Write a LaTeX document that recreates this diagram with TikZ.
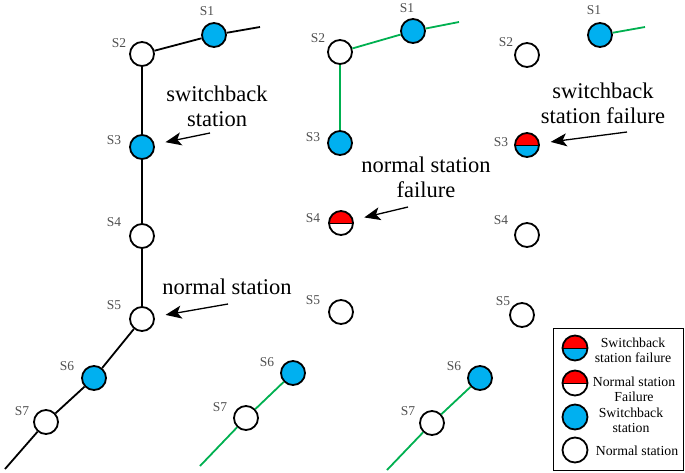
\documentclass[tikz,border=0pt]{standalone}
\usepackage{fontspec}
\setmainfont{Liberation Serif}
\usetikzlibrary{arrows.meta}
\definecolor{sbblue}{HTML}{00B0F0}
\definecolor{lgreen}{HTML}{00B050}
\definecolor{labgray}{HTML}{505050}
\begin{document}
\begin{tikzpicture}[x=1pt,y=-1pt,
  st/.style={circle, draw, line width=1.8pt, minimum size=24pt, inner sep=0pt, fill=white},
  sb/.style={st, fill=sbblue},
  nf/.style={st, fill=white, path picture={\fill[red] (path picture bounding box.west) rectangle (path picture bounding box.north east);
      \draw[line width=0.9pt] (path picture bounding box.west) -- (path picture bounding box.east);}},
  sf/.style={nf, fill=sbblue},
  lab/.style={font=\fontsize{13.5}{15}\selectfont, text=labgray, inner sep=0pt},
  ann/.style={font=\fontsize{22.5}{25}\selectfont, align=center, inner sep=0pt},
  leg/.style={font=\fontsize{13.8}{15}\selectfont, align=center, inner sep=0pt},
  blk/.style={line width=1.8pt, black},
  grn/.style={line width=1.8pt, lgreen},
  arr/.style={line width=1.3pt, -{Stealth[length=16pt, width=13pt, inset=4pt]}, shorten >=11pt}
]
\useasboundingbox (0,0) rectangle (685,472);

% ---------- panel 1 ----------
\node[sb] (a1) at (214,35) {};
\node[st] (a2) at (142,54) {};
\node[sb] (a3) at (142,147) {};
\node[st] (a4) at (142,236) {};
\node[st] (a5) at (142,319) {};
\node[sb] (a6) at (94,378) {};
\node[st] (a7) at (46,422) {};
\coordinate (a1e) at (260,27);
\coordinate (a7e) at (5,469);
\draw[blk] (a1) -- (a1e);
\draw[blk] (a2) -- (a1);
\draw[blk] (a2) -- (a3);
\draw[blk] (a3) -- (a4);
\draw[blk] (a4) -- (a5);
\draw[blk] (a5) -- (a6);
\draw[blk] (a6) -- (a7);
\draw[blk] (a7) -- (a7e);
\node[lab] (la1) at (207,11) {S1};
\node[lab] (la2) at (119,43) {S2};
\node[lab] (la3) at (114,140) {S3};
\node[lab] (la4) at (114,222) {S4};
\node[lab] (la5) at (114,305) {S5};
\node[lab] (la6) at (67,366) {S6};
\node[lab] (la7) at (22,411) {S7};

% ---------- panel 2 ----------
\node[sb] (b1) at (413,31) {};
\node[st] (b2) at (340,52) {};
\node[sb] (b3) at (340,143) {};
\node[nf] (b4) at (341,223) {};
\node[st] (b5) at (341,312) {};
\node[sb] (b6) at (293,373) {};
\node[st] (b7) at (246,418) {};
\coordinate (b1e) at (459,22);
\coordinate (b7e) at (200,466);
\draw[grn] (b1) -- (b1e);
\draw[grn] (b2) -- (b1);
\draw[grn] (b2) -- (b3);
\draw[grn] (b6) -- (b7);
\draw[grn] (b7) -- (b7e);
\node[lab] (lb1) at (407,8) {S1};
\node[lab] (lb2) at (318,38) {S2};
\node[lab] (lb3) at (313,137) {S3};
\node[lab] (lb4) at (313,218) {S4};
\node[lab] (lb5) at (313,300) {S5};
\node[lab] (lb6) at (267,362) {S6};
\node[lab] (lb7) at (220,407) {S7};

% ---------- panel 3 ----------
\node[sb] (c1) at (600,35) {};
\node[st] (c2) at (527,55) {};
\node[sf] (c3) at (527,145) {};
\node[st] (c4) at (527,235) {};
\node[st] (c5) at (522,315) {};
\node[sb] (c6) at (480,378) {};
\node[st] (c7) at (432,423) {};
\coordinate (c1e) at (645,27);
\coordinate (c7e) at (387,470);
\draw[grn] (c1) -- (c1e);
\draw[grn] (c6) -- (c7);
\draw[grn] (c7) -- (c7e);
\node[lab] (lc1) at (594,10) {S1};
\node[lab] (lc2) at (506,42) {S2};
\node[lab] (lc3) at (501,142) {S3};
\node[lab] (lc4) at (501,220) {S4};
\node[lab] (lc5) at (503,301) {S5};
\node[lab] (lc6) at (454,366) {S6};
\node[lab] (lc7) at (408,411) {S7};

% ---------- annotations ----------
\node[ann] (t1) at (217,106) {switchback\\station};
\coordinate (t1s) at (210,133);
\draw[arr] (t1s) -- (a3);
\node[ann] (t2) at (227,287) {normal station};
\coordinate (t2s) at (228,304);
\draw[arr] (t2s) -- (a5);
\node[ann] (t3) at (426,177) {normal station\\failure};
\coordinate (t3s) at (408,207);
\draw[arr] (t3s) -- (b4);
\node[ann] (t4) at (603,103) {switchback\\station failure};
\coordinate (t4s) at (627,132);
\draw[arr] (t4s) -- (c3);

% ---------- legend ----------
\node[draw, line width=1pt, minimum width=130pt, minimum height=142pt, inner sep=0pt] (lg) at (618,399) {};
\node[sf, minimum size=25pt] (g1) at (575,348) {};
\node[nf, minimum size=25pt] (g2) at (575,383) {};
\node[sb, minimum size=25pt] (g3) at (575,417) {};
\node[st, minimum size=25pt] (g4) at (575,450) {};
\node[leg] (gt1) at (633,350) {Switchback\\station failure};
\node[leg] (gt2) at (634,389) {Normal station\\Failure};
\node[leg] (gt3) at (631,420) {Switchback\\station};
\node[leg] (gt4) at (637,451) {Normal station};
\end{tikzpicture}
\end{document}
